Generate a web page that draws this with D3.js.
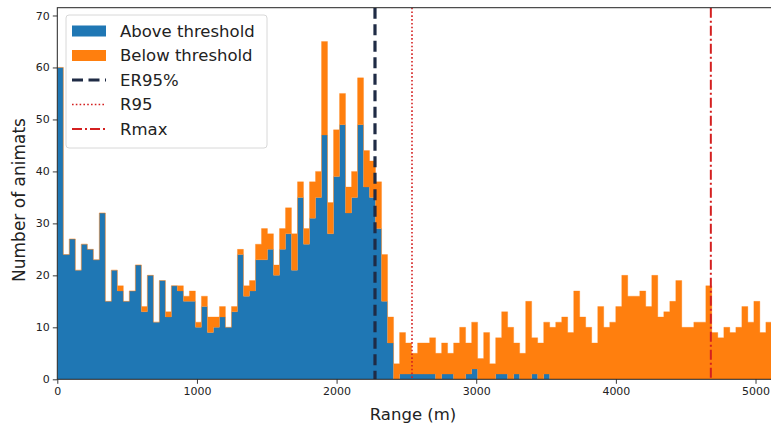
<!DOCTYPE html>
<html>
<head>
<meta charset="utf-8">
<script src="https://cdn.jsdelivr.net/npm/d3@7"></script>
<style>
body { margin: 0; background: #fff; }
svg { display: block; font-family: "DejaVu Sans", sans-serif; }
</style>
</head>
<body>
<div class="container"></div>
<script>
// histogram bins, 43 m wide, starting at 0
const binWidth = 43;
const aboveCounts = [
    60, 24, 27, 21, 26, 25, 23, 32, 15, 21,
    17, 15, 17, 22, 13, 20, 11, 19, 12, 18,
    17, 15, 15, 10, 14, 9, 10, 12, 10, 13,
    24, 16, 17, 23, 23, 25, 20, 25, 28, 21,
    35, 26, 31, 35, 47, 28, 39, 49, 32, 35,
    49, 37, 35, 29, 15, 7, 0, 1, 1, 1,
    1, 1, 1, 0, 1, 1, 0, 0, 1, 2,
    0, 0, 0, 1, 1, 0, 1, 0, 0, 1,
    0, 1, 0, 0, 0, 0, 0, 0, 0, 0,
    0, 0, 0, 0, 0, 0, 0, 0, 0, 0,
    0, 0, 0, 0, 0, 0, 0, 0, 0, 0,
    0, 0, 0, 0, 0, 0, 0, 0, 0
];
const belowCounts = [
    0, 0, 0, 0, 0, 0, 0, 0, 0, 0,
    1, 0, 0, 0, 1, 0, 0, 0, 1, 0,
    1, 1, 2, 1, 2, 3, 2, 2, 0, 1,
    1, 2, 2, 3, 6, 3, 2, 4, 5, 7,
    3, 3, 7, 5, 18, 6, 9, 6, 5, 5,
    9, 7, 7, 9, 9, 5, 3, 8, 6, 4,
    6, 6, 7, 5, 6, 4, 7, 10, 6, 9,
    4, 9, 3, 7, 12, 10, 6, 5, 15, 7,
    7, 10, 10, 11, 12, 9, 17, 12, 10, 7,
    14, 10, 11, 14, 20, 16, 16, 17, 14, 20,
    12, 13, 15, 19, 10, 10, 11, 11, 18, 9,
    8, 10, 9, 10, 14, 11, 15, 9, 11
];
// bin edges (one more than bins)
const binEdges = d3.range(aboveCounts.length + 1).map(i => i * binWidth);

const xTicks = [0, 1000, 2000, 3000, 4000, 5000];
const yTicks = [0, 10, 20, 30, 40, 50, 60, 70];

const refNames = ["ER95%", "R95", "Rmax"];
const refValues = [2275, 2540, 4680];
const seriesNames = ["Above threshold", "Below threshold"];

const width = 771;
const height = 425;
const plotLeft = 57.3, plotRight = 772, plotTop = 7.7, plotBottom = 379.3;

const blue = "#1f77b4";
const orange = "#ff7f0e";
const refStyles = [
    { color: "#1f2b45", width: 3.2, dash: "11,5.5" },
    { color: "#d42020", width: 1.6, dash: "1.6,2.2" },
    { color: "#d42020", width: 2, dash: "10,3,2,3" }
];

const svg = d3.select("div.container")
    .append("svg")
    .attr("width", width)
    .attr("height", height);

const x = d3.scaleLinear().domain([0, 5118]).range([plotLeft, plotRight]);
const y = d3.scaleLinear().domain([0, 71.5]).range([plotBottom, plotTop]);

svg.append("clipPath").attr("id", "plot")
    .append("rect")
    .attr("x", plotLeft).attr("y", plotTop)
    .attr("width", plotRight - plotLeft).attr("height", plotBottom - plotTop);

const bars = svg.append("g").attr("clip-path", "url(#plot)");

// value of bin i, the last edge repeats the last bin so the step closes
const at = (arr, i) => arr[Math.min(i, arr.length - 1)];

const aboveArea = d3.area()
    .curve(d3.curveStepAfter)
    .x(d => x(d))
    .y0(y(0))
    .y1((d, i) => y(at(aboveCounts, i)));

const belowArea = d3.area()
    .curve(d3.curveStepAfter)
    .x(d => x(d))
    .y0((d, i) => y(at(aboveCounts, i)))
    .y1((d, i) => y(at(aboveCounts, i) + at(belowCounts, i)));

bars.append("path")
    .datum(binEdges)
    .attr("d", aboveArea)
    .attr("fill", blue);

bars.append("path")
    .datum(binEdges)
    .attr("d", belowArea)
    .attr("fill", orange)
    .attr("stroke", orange)
    .attr("stroke-width", 0.3);

bars.selectAll("line.ref")
    .data(refValues)
    .enter()
    .append("line")
    .attr("class", "ref")
    .attr("x1", d => x(d)).attr("x2", d => x(d))
    .attr("y1", plotTop).attr("y2", plotBottom)
    .attr("stroke", (d, i) => refStyles[i].color)
    .attr("stroke-width", (d, i) => refStyles[i].width)
    .attr("stroke-dasharray", (d, i) => refStyles[i].dash);

// axes
const xAxis = svg.append("g")
    .attr("transform", `translate(0,${plotBottom})`)
    .call(d3.axisBottom(x).tickValues(xTicks).tickFormat(d3.format("d")).tickSize(4.5).tickPadding(3));
const yAxis = svg.append("g")
    .attr("transform", `translate(${plotLeft},0)`)
    .call(d3.axisLeft(y).tickValues(yTicks).tickFormat(d3.format("d")).tickSize(4.5).tickPadding(3));

for (let ax of [xAxis, yAxis]) {
    ax.select(".domain").remove();
    ax.selectAll("text").attr("font-size", 11).attr("fill", "#222")
        .attr("font-family", "DejaVu Sans, sans-serif");
    ax.selectAll("line").attr("stroke", "#222").attr("stroke-width", 0.9);
}

// spines
svg.append("rect")
    .attr("x", plotLeft).attr("y", plotTop)
    .attr("width", plotRight - plotLeft).attr("height", plotBottom - plotTop)
    .attr("fill", "none")
    .attr("stroke", "#222")
    .attr("stroke-width", 1);

svg.append("text")
    .attr("x", 413).attr("y", 420)
    .attr("text-anchor", "middle")
    .attr("font-size", 16.5)
    .attr("fill", "#222")
    .text("Range (m)");

svg.append("text")
    .attr("transform", "translate(24.5,200) rotate(-90)")
    .attr("text-anchor", "middle")
    .attr("font-size", 17)
    .attr("fill", "#222")
    .text("Number of animats");

// legend
const legend = svg.append("g");
legend.append("rect")
    .attr("x", 66).attr("y", 15)
    .attr("width", 201).attr("height", 133)
    .attr("rx", 3)
    .attr("fill", "white").attr("fill-opacity", 0.85)
    .attr("stroke", "#d8d8d8");

const rowY = i => 31 + i * 24.5;
const entries = seriesNames.map((n, i) => ({ name: n, kind: "patch", color: i === 0 ? blue : orange }))
    .concat(refNames.map((n, i) => ({ name: n, kind: "line", style: refStyles[i] })));

entries.forEach(function(e, i) {
    if (e.kind === "patch") {
        legend.append("rect")
            .attr("x", 72).attr("y", rowY(i) - 5.5)
            .attr("width", 34).attr("height", 11)
            .attr("fill", e.color);
    } else {
        legend.append("line")
            .attr("x1", 72).attr("x2", 106)
            .attr("y1", rowY(i)).attr("y2", rowY(i))
            .attr("stroke", e.style.color)
            .attr("stroke-width", e.style.width)
            .attr("stroke-dasharray", e.style.dash);
    }
    legend.append("text")
        .attr("x", 120).attr("y", rowY(i))
        .attr("dy", "0.36em")
        .attr("font-size", 16.5)
        .attr("fill", "#222")
        .text(e.name);
});
</script>
</body>
</html>
